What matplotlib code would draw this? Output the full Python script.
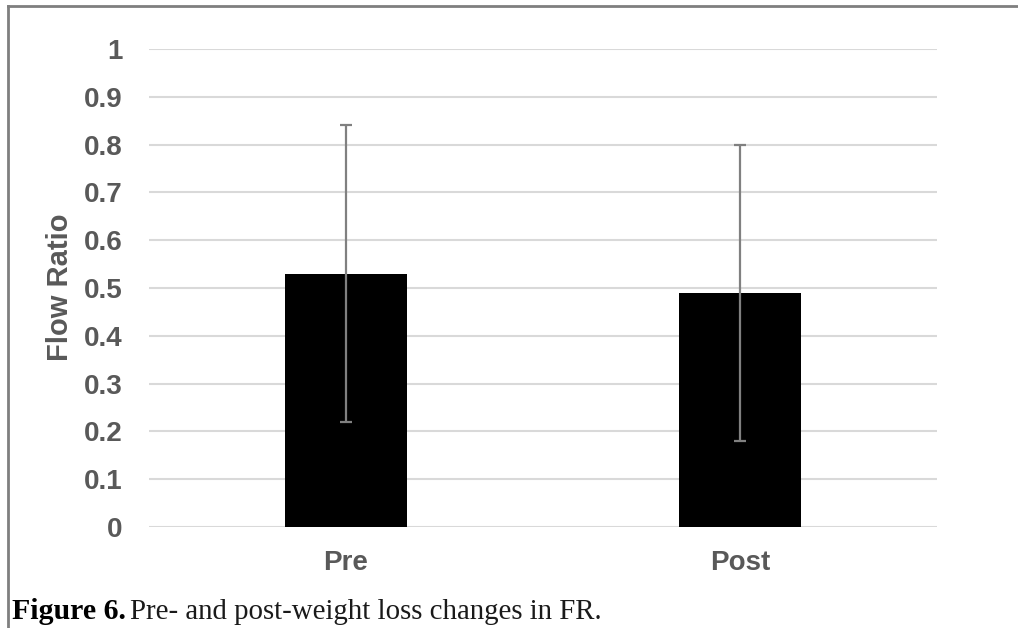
import matplotlib
matplotlib.use("Agg")
import matplotlib.pyplot as plt
from matplotlib.lines import Line2D

categories = ["Pre", "Post"]
means = [0.53, 0.49]
errors = [0.31, 0.31]
yticks = [0, 0.1, 0.2, 0.3, 0.4, 0.5, 0.6, 0.7, 0.8, 0.9, 1]
ytick_labels = ["0", "0.1", "0.2", "0.3", "0.4", "0.5", "0.6", "0.7", "0.8", "0.9", "1"]

W, H = 1018, 628
fig = plt.figure(figsize=(W / 100, H / 100), dpi=100)
ax = fig.add_axes([149 / W, 1 - 527 / H, (937 - 149) / W, (527 - 49) / H])

x = list(range(len(categories)))
ax.bar(x, means, width=0.31, color="black", zorder=2)
ax.errorbar(x, means, yerr=errors, fmt="none", ecolor="#808080", elinewidth=1.6,
            capsize=4, capthick=1.6, zorder=3)

ax.set_xlim(-0.5, 1.5)
ax.set_ylim(0, 1)
ax.set_yticks(yticks)
ax.set_yticklabels(ytick_labels)
ax.set_xticks(x)
ax.set_xticklabels(categories)
ax.yaxis.grid(True, color="#d9d9d9", linewidth=1.5, zorder=0)
ax.set_axisbelow(True)
for s in ax.spines.values():
    s.set_visible(False)
ax.tick_params(axis="both", length=0, colors="#595959")
for lab in ax.get_yticklabels() + ax.get_xticklabels():
    lab.set_fontfamily("Liberation Sans")
    lab.set_fontweight("bold")
    lab.set_fontsize(20)
    lab.set_color("#595959")
ax.tick_params(axis="y", pad=19)
ax.tick_params(axis="x", pad=16.5)

fig.text(60 / W, 1 - 287 / H, "Flow Ratio", rotation=90, ha="center", va="center",
         fontfamily="Liberation Sans", fontweight="bold", fontsize=21, color="#595959")

# frame lines (top and left)
fig.add_artist(Line2D([8 / W, 1], [1 - 6 / H, 1 - 6 / H], color="#7f7f7f", linewidth=2,
                      transform=fig.transFigure))
fig.add_artist(Line2D([8 / W, 8 / W], [0, 1 - 6 / H], color="#7f7f7f", linewidth=2,
                      transform=fig.transFigure))

# caption
t1 = fig.text(12 / W, 1 - 619 / H, "Figure 6.", ha="left", va="baseline",
              fontfamily="Liberation Serif", fontweight="bold", fontsize=21.5, color="black")
fig.canvas.draw()
bb = t1.get_window_extent()
fig.text((bb.x1 + 4) / W, 1 - 619 / H, "Pre- and post-weight loss changes in FR.",
         ha="left", va="baseline", fontfamily="Liberation Serif", fontsize=20.8, color="#1a1a1a")

fig.savefig("out.png", dpi=100)
